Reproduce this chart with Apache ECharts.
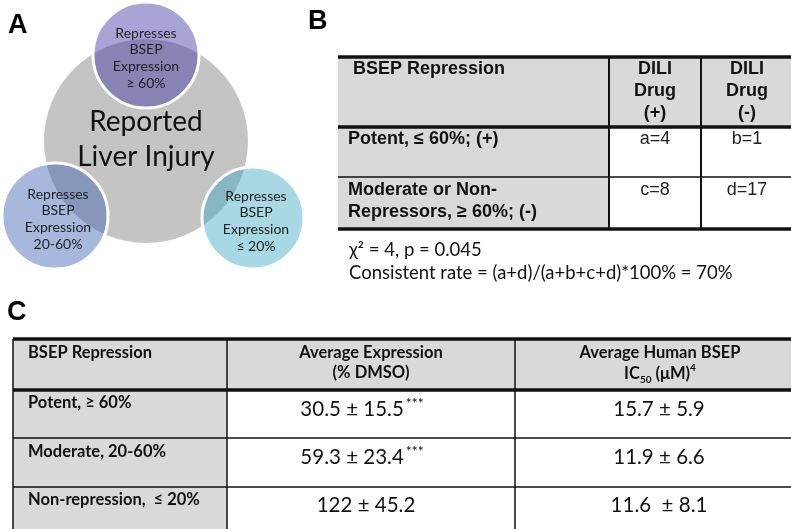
<!DOCTYPE html>
<html><head><meta charset="utf-8">
<script src="https://cdn.jsdelivr.net/npm/echarts@6/dist/echarts.min.js"></script>
<style>html,body{margin:0;padding:0;background:#fff}#c{width:791px;height:529px}</style>
</head><body><div id="c"></div>
<script>
// ---- data ----
var panelLabels = ['A', 'B', 'C'];
var centerText = ['Reported', 'Liver Injury'];
var circleTexts = [
  ['Represses', 'BSEP', 'Expression', '\u2265 60%'],
  ['Represses', 'BSEP', 'Expression', '20-60%'],
  ['Represses', 'BSEP', 'Expression', '\u2264 20%']
];
var tableBHeader = ['BSEP Repression', 'DILI\nDrug\n(+)', 'DILI\nDrug\n(-)'];
var tableBRows = ['Potent, \u2264 60%; (+)', 'Moderate or Non-\nRepressors, \u2265 60%; (-)'];
var tableBCounts = [['a=4', 'b=1'], ['c=8', 'd=17']];
var statLines = ['\u03c7\u00b2 = 4, p = 0.045', 'Consistent rate = (a+d)/(a+b+c+d)*100% = 70%'];
var tableCHeader = ['BSEP Repression', 'Average Expression', '(% DMSO)', 'Average Human BSEP'];
var tableCRows = ['Potent, \u2265 60%', 'Moderate, 20-60%', 'Non-repression,  \u2264 20%'];
var avgExpr = ['30.5 \u00b1 15.5', '59.3 \u00b1 23.4', '122 \u00b1 45.2'];
var avgExprSig = ['***', '***', ''];
var avgIC50 = ['15.7 \u00b1 5.9', '11.9 \u00b1 6.6', '11.6  \u00b1 8.1'];

// ---- layout ----
var G = [];
var CAL = 'Lato, "Open Sans", sans-serif';
var ARI = '"Liberation Sans", Arial, sans-serif';
function txt(x, y, s, font, align, fill, extra) {
  var st = {text: s, x: x, y: y, font: font, fill: fill || '#111', textAlign: align || 'left', textVerticalAlign: 'middle'};
  if (extra) for (var k in extra) st[k] = extra[k];
  G.push({type: 'text', z: 10, style: st});
}
function rect(x, y, w, h, fill) { G.push({type: 'rect', z: 1, shape: {x: x, y: y, width: w, height: h}, style: {fill: fill}}); }
function line(x1, y1, x2, y2, w) { G.push({type: 'line', z: 5, shape: {x1: x1, y1: y1, x2: x2, y2: y2}, style: {stroke: '#111', lineWidth: w}}); }

// panel labels
txt(8, 26, panelLabels[0], 'bold 27px ' + ARI, 'left', '#000');
txt(308, 22, panelLabels[1], 'bold 27px ' + ARI, 'left', '#000');
txt(7, 313, panelLabels[2], 'bold 27px ' + ARI, 'left', '#000');

// Panel A circles
G.push({type: 'circle', z: 1, shape: {cx: 146, cy: 141, r: 102}, style: {fill: '#c4c4c4'}});
var circ = [
  {cx: 146, cy: 55, r: 53, fill: 'rgba(62,53,162,0.45)'},
  {cx: 55, cy: 216, r: 53, fill: 'rgba(55,94,175,0.44)'},
  {cx: 253, cy: 218, r: 51, fill: 'rgba(57,166,194,0.44)'}
];
circ.forEach(function (c, i) {
  G.push({type: 'circle', z: 2, shape: {cx: c.cx, cy: c.cy, r: c.r}, style: {fill: c.fill, stroke: '#fff', lineWidth: 3}});
  circleTexts[i].forEach(function (s, j) {
    txt(c.cx + (i === 0 ? 0 : 3), c.cy - 22 + j * 16.7, s, '14px ' + CAL, 'center', '#222');
  });
});
txt(146, 122, centerText[0], '28px ' + CAL, 'center', '#111');
txt(146, 157, centerText[1], '28px ' + CAL, 'center', '#111');

// Panel B table
var bx = [338, 609, 701, 791];
var by = [57, 127, 177, 229];
rect(bx[0], by[0], bx[3] - bx[0], by[1] - by[0], '#d9d9d9');
rect(bx[0], by[1], bx[1] - bx[0], by[3] - by[1], '#d9d9d9');
line(bx[0], by[0], bx[3], by[0], 3.5);
line(bx[0], by[1], bx[3], by[1], 3.5);
line(bx[0], by[2], bx[3], by[2], 1.5);
line(bx[0], by[3], bx[3], by[3], 3.5);
line(bx[1], by[0], bx[1], by[3], 2);
line(bx[2], by[0], bx[2], by[3], 2);
var BF = 'bold 18px ' + ARI;
txt(353, 69, tableBHeader[0], BF, 'left', '#111');
txt(655, 91, tableBHeader[1], BF, 'center', '#111', {lineHeight: 22});
txt(747, 91, tableBHeader[2], BF, 'center', '#111', {lineHeight: 22});
txt(348, 139, tableBRows[0], BF, 'left', '#111');
txt(348, 201, tableBRows[1], BF, 'left', '#111', {lineHeight: 22});
tableBCounts.forEach(function (r, i) {
  var y = i === 0 ? 139 : 190;
  txt(655, y, r[0], '18px ' + ARI, 'center', '#222');
  txt(747, y, r[1], '18px ' + ARI, 'center', '#222');
});
txt(349, 250, statLines[0], '18.5px ' + CAL, 'left', '#111');
txt(349, 273, statLines[1], '18.5px ' + CAL, 'left', '#111');

// Panel C table
var cx = [13, 227, 515, 791];
var cy = [339, 390, 438, 487, 540];
rect(cx[0], cy[0], cx[3] - cx[0], cy[1] - cy[0], '#d9d9d9');
rect(cx[0], cy[1], cx[1] - cx[0], cy[4] - cy[1], '#d9d9d9');
line(cx[0], cy[0], cx[3], cy[0], 3.5);
line(cx[0], cy[1], cx[3], cy[1], 3.5);
line(cx[0], cy[2], cx[3], cy[2], 1.5);
line(cx[0], cy[3], cx[3], cy[3], 1.5);
line(cx[0], cy[0], cx[0], cy[4], 1.5);
line(cx[1], cy[0], cx[1], cy[4], 1.5);
line(cx[2], cy[0], cx[2], cy[4], 1.5);
var HF = 'bold 16.5px ' + CAL;
txt(28, 353, tableCHeader[0], HF, 'left', '#111');
txt(371, 353, tableCHeader[1], HF, 'center', '#111');
txt(371, 373, tableCHeader[2], HF, 'center', '#111');
txt(660, 353, tableCHeader[3], HF, 'center', '#111');
txt(660, 374, '{n|IC}{sub|50}{n| (\u03bcM)}{sup|4}', HF, 'center', '#111', {
  rich: {
    n: {font: HF, fill: '#111', lineHeight: 22, verticalAlign: 'middle'},
    sub: {font: 'bold 10px ' + CAL, fill: '#111', lineHeight: 22, verticalAlign: 'bottom', padding: [9, 0, 0, 0]},
    sup: {font: 'bold 10px ' + CAL, fill: '#111', lineHeight: 22, verticalAlign: 'top', padding: [0, 0, 7, 0]}
  }
});
var rowY = [409, 457, 505];
var rowLY = [403, 452, 500];
var VF = '20.5px ' + CAL;
var valCx = [362, 362, 366];
tableCRows.forEach(function (s, i) {
  txt(28, rowLY[i], s, HF, 'left', '#111');
  var t = '{v|' + avgExpr[i] + '}' + (avgExprSig[i] ? '{s|' + avgExprSig[i] + '}' : '');
  txt(valCx[i], rowY[i], t, VF, 'center', '#111', {
    rich: {
      v: {font: VF, fill: '#111', lineHeight: 28},
      s: {font: '14px ' + CAL, fill: '#111', lineHeight: 28, padding: [0, 0, 12, 2]}
    }
  });
  txt(659, rowY[i], avgIC50[i], VF, 'center', '#111');
});

var chart = echarts.init(document.getElementById('c'), null, {renderer: 'canvas'});
chart.setOption({backgroundColor: '#fff', animation: false, graphic: G});
</script></body></html>
